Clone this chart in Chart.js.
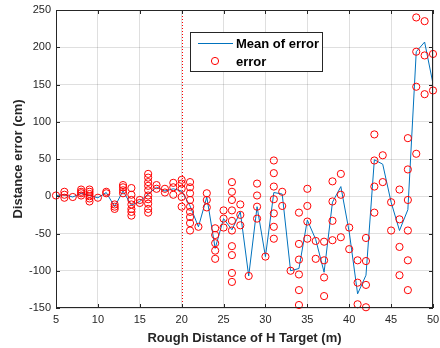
<!DOCTYPE html>
<html>
<head>
<meta charset="utf-8">
<script src="https://cdn.jsdelivr.net/npm/chart.js@4.4.0/dist/chart.umd.min.js"></script>
<style>
  html, body { margin: 0; padding: 0; background: #fff; }
  #wrap { width: 440px; height: 348px; }
</style>
</head>
<body>
<div id="wrap"><canvas id="c" width="440" height="348"></canvas></div>
<script>
// rough distance of the target (m)
const distances = [5, 6, 7, 8, 9, 10, 11, 12, 13, 14, 15, 16, 17, 18, 19, 20,
  21, 22, 23, 24, 25, 26, 27, 28, 29, 30, 31, 32, 33, 34, 35, 36, 37, 38, 39, 40,
  41, 42, 43, 44, 45, 46, 47, 48, 49, 50];

// mean of error per distance (cm)
const meanError = [1, 2, -1, 4, 1, -2, 5, -14, 7, -12, -7, 3, 12, 7, 10, 7,
  -13, -41, -1, -70, -30, -45, -21, -107, -14, -81, 5, 3, -100, -97, -32, -58, -102, -8, 13, -48,
  -131, -106, 49, 43, -8, -46, -18, 194, 207, 151];

// single error samples per distance (cm)
const errorSamples = [
  [1], [6, 2, -2], [-1], [9, 6, 4, 1], [9, 6, 3, 0, -3, -7], [-2], [6, 4],
  [-11, -14, -17], [15, 12, 8, 4], [11, 2, -5, -11, -17, -21, -26], [-5, -9],
  [30, 25, 19, 14, 8, 1, -4, -10, -17, -22], [15, 10], [10, 5], [18, 12, 2],
  [22, 17, 10, -1, -14],
  [19, 12, 4, -5, -14, -21, -28, -36, -46], [-41], [4, -5, -15],
  [-43, -52, -63, -73, -84], [-19, -30, -42],
  [19, 6, -5, -19, -33, -46, -67, -79, -103, -115], [-11, -25, -39], [-107],
  [17, 1, -14, -30], [-81], [48, 31, 13, -4, -23, -41, -57], [6, -13], [-100],
  [-22, -64, -85, -105, -126, -146], [10, -13, -34, -57], [-60, -84],
  [-61, -86, -109, -134], [20, -7, -33, -59], [30, 2, -55], [-42, -71],
  [-86, -116, -145], [-56, -87, -119, -149], [83, 48, 13, -22], [55, 19], [-8, -46],
  [9, -31, -68, -106], [78, 36, -5, -46, -86, -126], [240, 194, 147, 57],
  [235, 189, 137], [191, 142]
];

const xTicks = [5, 10, 15, 20, 25, 30, 35, 40, 45, 50];
const yTicks = [-150, -100, -50, 0, 50, 100, 150, 200, 250];
const markerDistance = 20;

const FONT = '"Liberation Sans", Arial, Helvetica, sans-serif';
const AXIS = '#262626';
const GRID = 'rgba(38,38,38,0.15)';

const meanPoints = distances.map((d, i) => ({ x: d, y: meanError[i] }));
const errorPoints = [];
distances.forEach((d, i) => {
  errorSamples[i].forEach(v => errorPoints.push({ x: d, y: v }));
});

const decorPlugin = {
  id: 'decor',
  beforeDatasetsDraw(chart) {
    const { ctx, chartArea: a, scales } = chart;
    const px = scales.x.getPixelForValue(markerDistance);
    ctx.save();
    ctx.strokeStyle = '#ff0000';
    ctx.lineWidth = 1;
    ctx.setLineDash([1, 2]);
    ctx.beginPath();
    ctx.moveTo(Math.round(px) + 0.5, a.top);
    ctx.lineTo(Math.round(px) + 0.5, a.bottom);
    ctx.stroke();
    ctx.restore();
  },
  afterDraw(chart) {
    const { ctx, chartArea: a, scales } = chart;
    ctx.save();
    // box
    ctx.strokeStyle = AXIS;
    ctx.lineWidth = 1;
    ctx.strokeRect(Math.round(a.left) + 0.5, Math.round(a.top) + 0.5,
      Math.round(a.right - a.left) - 1, Math.round(a.bottom - a.top) - 1);
    // inward ticks
    const tl = 4;
    ctx.beginPath();
    xTicks.forEach(v => {
      const p = Math.round(scales.x.getPixelForValue(v)) + 0.5;
      ctx.moveTo(p, a.bottom); ctx.lineTo(p, a.bottom - tl);
      ctx.moveTo(p, a.top); ctx.lineTo(p, a.top + tl);
    });
    yTicks.forEach(v => {
      const p = Math.round(scales.y.getPixelForValue(v)) + 0.5;
      ctx.moveTo(a.left, p); ctx.lineTo(a.left + tl, p);
      ctx.moveTo(a.right, p); ctx.lineTo(a.right - tl, p);
    });
    ctx.stroke();

    // legend
    const bx = 190.5, by = 32.5, bw = 132, bh = 39;
    ctx.fillStyle = '#fff';
    ctx.fillRect(bx, by, bw, bh);
    ctx.strokeStyle = AXIS;
    ctx.strokeRect(bx, by, bw, bh);
    const ds = chart.data.datasets;
    ctx.strokeStyle = ds[0].borderColor;
    ctx.lineWidth = 1;
    ctx.beginPath();
    ctx.moveTo(198, 43.5); ctx.lineTo(233, 43.5);
    ctx.stroke();
    ctx.strokeStyle = ds[1].borderColor;
    ctx.beginPath();
    ctx.arc(215, 61, 3.6, 0, Math.PI * 2);
    ctx.stroke();
    ctx.fillStyle = '#000';
    ctx.font = 'bold 13px ' + FONT;
    ctx.textBaseline = 'middle';
    ctx.textAlign = 'left';
    ctx.fillText(ds[0].label, 236, 44);
    ctx.fillText(ds[1].label, 236, 62);
    ctx.restore();
  }
};

new Chart(document.getElementById('c'), {
  type: 'scatter',
  data: {
    datasets: [
      {
        label: 'Mean of error',
        data: meanPoints,
        showLine: true,
        borderColor: '#0072BD',
        backgroundColor: '#0072BD',
        borderWidth: 1,
        pointRadius: 0,
        tension: 0,
        order: 2
      },
      {
        label: 'error',
        data: errorPoints,
        showLine: false,
        borderColor: '#ff0000',
        backgroundColor: 'rgba(0,0,0,0)',
        borderWidth: 1,
        pointRadius: 3.6,
        clip: false,
        order: 1
      }
    ]
  },
  options: {
    responsive: false,
    animation: false,
    devicePixelRatio: 1,
    layout: { padding: { top: 10, right: 7, left: 0, bottom: 0 } },
    plugins: { legend: { display: false }, tooltip: { enabled: false } },
    scales: {
      x: {
        type: 'linear',
        min: 5,
        max: 50,
        afterBuildTicks: s => { s.ticks = xTicks.map(v => ({ value: v })); },
        afterFit: s => { s.height = 40; s.paddingLeft = 0; s.paddingRight = 0; },
        grid: { color: GRID, drawTicks: false },
        border: { display: false },
        ticks: { color: AXIS, padding: 5, font: { family: FONT, size: 11 }, maxRotation: 0 },
        title: {
          display: true,
          text: 'Rough Distance of H Target (m)',
          color: AXIS,
          font: { family: FONT, size: 13, weight: 'bold' },
          padding: { top: 0, bottom: 2 }
        }
      },
      y: {
        type: 'linear',
        min: -150,
        max: 250,
        afterBuildTicks: s => { s.ticks = yTicks.map(v => ({ value: v })); },
        afterFit: s => { s.width = 56; s.paddingTop = 0; s.paddingBottom = 0; },
        grid: { color: GRID, drawTicks: false },
        border: { display: false },
        ticks: { color: AXIS, padding: 5, font: { family: FONT, size: 11 } },
        title: {
          display: true,
          text: 'Distance error (cm)',
          color: AXIS,
          font: { family: FONT, size: 13, weight: 'bold' },
          padding: { top: 11, bottom: 0 }
        }
      }
    }
  },
  plugins: [decorPlugin]
});
</script>
</body>
</html>
